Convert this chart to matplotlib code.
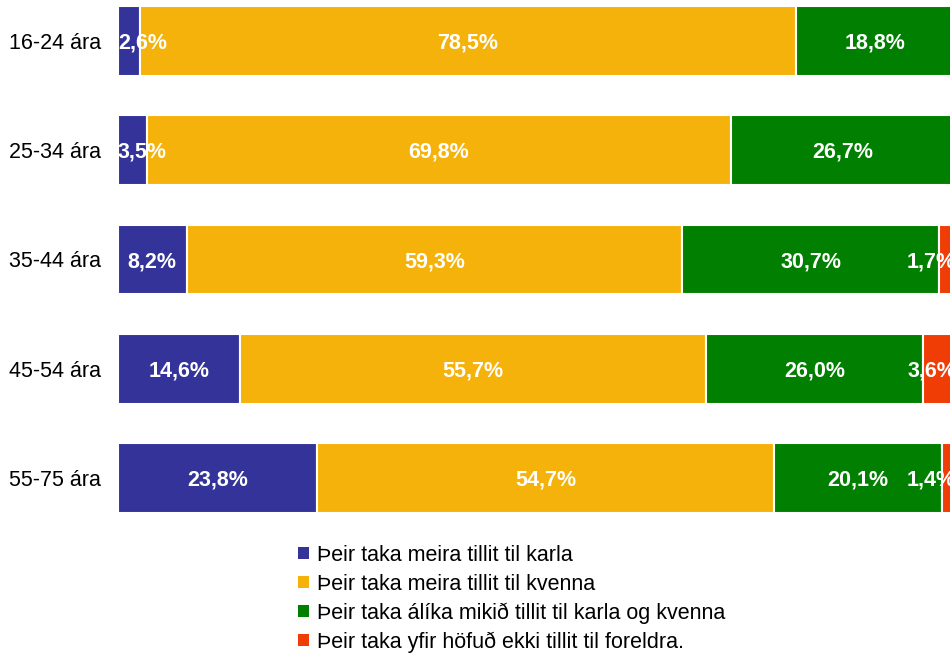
import matplotlib
matplotlib.use("Agg")
import matplotlib.pyplot as plt
from matplotlib.patches import Patch

plt.rcParams['font.family'] = ['Liberation Sans', 'DejaVu Sans']

categories = ["16-24 ára", "25-34 ára", "35-44 ára", "45-54 ára", "55-75 ára"]
series_names = [
    "Þeir taka meira tillit til karla",
    "Þeir taka meira tillit til kvenna",
    "Þeir taka álíka mikið tillit til karla og kvenna",
    "Þeir taka yfir höfuð ekki tillit til foreldra.",
]
karla = [2.6, 3.5, 8.2, 14.6, 23.8]
kvenna = [78.5, 69.8, 59.3, 55.7, 54.7]
alika = [18.8, 26.7, 30.7, 26.0, 20.1]
ekki = [0.0, 0.0, 1.7, 3.6, 1.4]
colors = ["#333399", "#F5B20A", "#007F00", "#F03C05"]

W, H = 950, 655
fig = plt.figure(figsize=(W / 100, H / 100), dpi=100)
ax_left, ax_right, ax_top, ax_bottom = 118, 954, 0, 530
ax = fig.add_axes([ax_left / W, (H - ax_bottom) / H,
                   (ax_right - ax_left) / W, (ax_bottom - ax_top) / H])

y = list(range(len(categories)))
left = [0.0] * len(categories)
texts = []
for vals, col in zip([karla, kvenna, alika, ekki], colors):
    ax.barh(y, vals, left=left, height=0.64, color=col,
            edgecolor="white", linewidth=1.5)
    for i, v in enumerate(vals):
        if v > 0:
            t = ax.text(left[i] + v / 2, y[i] + 0.02,
                        f"{v:.1f}".replace(".", ",") + "%",
                        ha="center", va="center", color="white",
                        fontsize=15.5, fontweight="bold", clip_on=False)
            texts.append(t)
    left = [l + v for l, v in zip(left, vals)]

ax.set_xlim(0, 100)
ax.set_ylim(4.476, -0.375)
ax.set_yticks(y)
ax.set_yticklabels(categories, fontsize=15.5)
ax.tick_params(axis="y", length=0, pad=12.5)
ax.set_xticks([])
for s in ax.spines.values():
    s.set_visible(False)

# keep data labels inside the plot area horizontally
fig.canvas.draw()
r = fig.canvas.get_renderer()
inv = ax.transData.inverted()
x0_px = ax.transAxes.transform((0, 0))[0]
x1_px = ax.transAxes.transform((1, 0))[0]
for t in texts:
    bb = t.get_window_extent(r)
    shift = 0
    if bb.x0 < x0_px:
        shift = x0_px - bb.x0
    elif bb.x1 > x1_px + 2:
        shift = (x1_px + 2) - bb.x1
    if shift:
        cx = (bb.x0 + bb.x1) / 2 + shift
        cy = (bb.y0 + bb.y1) / 2
        t.set_position(inv.transform((cx, cy)))

handles = [Patch(facecolor=c, edgecolor="none") for c in colors]
fig.legend(handles, series_names, loc="upper left",
           bbox_to_anchor=(298 / W, 1 - 545 / H), frameon=False,
           fontsize=15.5, handlelength=0.5, handleheight=0.5,
           handletextpad=0.4, labelspacing=0.36, borderpad=0,
           borderaxespad=0)

fig.savefig("out.png", dpi=100)
